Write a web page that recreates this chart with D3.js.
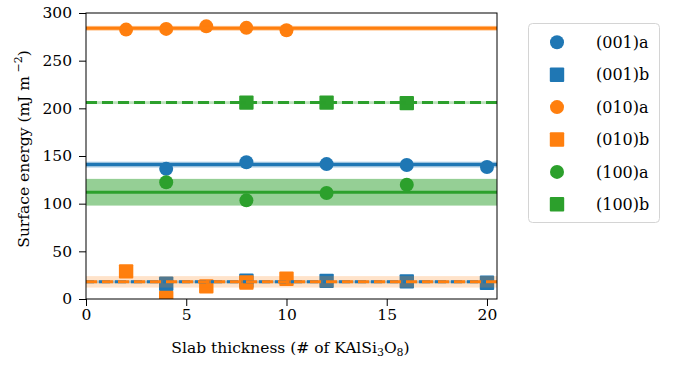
<!DOCTYPE html>
<html>
<head>
<meta charset="utf-8">
<script src="https://cdn.jsdelivr.net/npm/d3@7"></script>
<style>
  html, body { margin: 0; padding: 0; background: #fff; }
  svg text { font-family: "DejaVu Serif", serif; fill: #000; }
</style>
</head>
<body>
<svg id="chart" width="678" height="367"></svg>
<script>
// ---- data ----
const seriesNames = ["(001)a", "(001)b", "(010)a", "(010)b", "(100)a", "(100)b"];
const seriesColors = ["#1f77b4", "#1f77b4", "#ff7f0e", "#ff7f0e", "#2ca02c", "#2ca02c"];
const seriesShapes = ["circle", "square", "circle", "square", "circle", "square"];

const x001a = [4, 8, 12, 16, 20];
const y001a = [136.5, 143.5, 141.5, 140.5, 138.5];
const x001b = [4, 8, 12, 16, 20];
const y001b = [16, 19.2, 19, 18.5, 17];
const x010a = [2, 4, 6, 8, 10];
const y010a = [282.6, 283.3, 286, 284.4, 281.9];
const x010b = [2, 4, 6, 8, 10];
const y010b = [29, 1, 13.2, 17.3, 21.3];
const x100a = [4, 8, 12, 16];
const y100a = [122.4, 103.5, 111.2, 119.9];
const x100b = [8, 12, 16];
const y100b = [206, 206, 205.5];

// fitted surface energy (line) and its uncertainty (band), per series
const fitMean = [141, 18, 284, 18, 112, 206];
const fitErr = [3, 1.5, 2.5, 6, 14, 1.5];
const fitDashed = [false, true, false, true, false, true];
const bandAlpha = [0.45, 0.4, 0.45, 0.22, 0.5, 0.3];

const xTicks = [0, 5, 10, 15, 20];
const yTicks = [0, 50, 100, 150, 200, 250, 300];

const seriesX = [x001a, x001b, x010a, x010b, x100a, x100b];
const seriesY = [y001a, y001b, y010a, y010b, y100a, y100b];

// ---- layout ----
const FS = 15.5;
const svg = d3.select("#chart");
const m = { left: 86, right: 497, top: 13, bottom: 299 };
const x = d3.scaleLinear().domain([0, 20.5]).range([m.left, m.right]);
const y = d3.scaleLinear().domain([0, 300]).range([m.bottom, m.top]);

svg.append("defs").append("clipPath").attr("id", "clip")
  .append("rect").attr("x", m.left).attr("y", m.top)
  .attr("width", m.right - m.left).attr("height", m.bottom - m.top);

const plot = svg.append("g").attr("clip-path", "url(#clip)");
const R = 7, S = 14.4;

function drawMarker(g, shape, cx, cy, color) {
  if (shape === "circle") {
    g.append("circle").attr("cx", cx).attr("cy", cy).attr("r", R).attr("fill", color);
  } else {
    g.append("rect").attr("x", cx - S / 2).attr("y", cy - S / 2)
      .attr("width", S).attr("height", S).attr("rx", 1).attr("fill", color);
  }
}

// markers
seriesNames.forEach((name, i) => {
  const g = plot.append("g");
  seriesX[i].forEach((xv, j) => {
    drawMarker(g, seriesShapes[i], x(xv), y(seriesY[i][j]), seriesColors[i]);
  });
});

// bands
seriesNames.forEach((name, i) => {
  plot.append("rect")
    .attr("x", x(0)).attr("width", x(20.5) - x(0))
    .attr("y", y(fitMean[i] + fitErr[i]))
    .attr("height", y(fitMean[i] - fitErr[i]) - y(fitMean[i] + fitErr[i]))
    .attr("fill", seriesColors[i]).attr("fill-opacity", bandAlpha[i]);
});

// lines
seriesNames.forEach((name, i) => {
  const ln = plot.append("line")
    .attr("x1", x(0)).attr("x2", x(20.5))
    .attr("y1", y(fitMean[i])).attr("y2", y(fitMean[i]))
    .attr("stroke", seriesColors[i]).attr("stroke-width", 3);
  if (fitDashed[i]) {
    ln.attr("stroke-dasharray", "11,5").attr("stroke-dashoffset", i === 1 ? 3 : 0);
  }
});

// axes
const xAxis = svg.append("g").attr("transform", `translate(0,${m.bottom})`)
  .call(d3.axisBottom(x).tickValues(xTicks).tickSize(7).tickPadding(3).tickFormat(d3.format("d")));
const yAxis = svg.append("g").attr("transform", `translate(${m.left},0)`)
  .call(d3.axisLeft(y).tickValues(yTicks).tickSize(7).tickPadding(7).tickFormat(d3.format("d")));
[xAxis, yAxis].forEach(a => {
  a.select(".domain").remove();
  a.selectAll(".tick line").attr("stroke", "#000").attr("stroke-width", 1);
  a.selectAll(".tick text").attr("font-size", FS).attr("font-family", "DejaVu Serif");
});

// frame
svg.append("rect").attr("x", m.left).attr("y", m.top)
  .attr("width", m.right - m.left).attr("height", m.bottom - m.top)
  .attr("fill", "none").attr("stroke", "#000").attr("stroke-width", 1);

// axis labels
const xl = svg.append("text").attr("x", (m.left + m.right) / 2 - 1).attr("y", 353)
  .attr("text-anchor", "middle").attr("font-size", FS);
xl.append("tspan").text("Slab thickness (# of KAlSi");
xl.append("tspan").attr("font-size", 11).attr("dy", 3).text("3");
xl.append("tspan").attr("dy", -3).text("O");
xl.append("tspan").attr("font-size", 11).attr("dy", 3).text("8");
xl.append("tspan").attr("dy", -3).text(")");

const yl = svg.append("text")
  .attr("transform", `translate(29,149) rotate(-90)`)
  .attr("text-anchor", "middle").attr("font-size", FS);
yl.append("tspan").text("Surface energy (mJ m");
yl.append("tspan").attr("font-size", 11).attr("dy", -7).text(" \u22122");
yl.append("tspan").attr("dy", 7).text(")");

// legend
const lg = svg.append("g");
lg.append("rect").attr("x", 528.5).attr("y", 23.5).attr("width", 131).attr("height", 199)
  .attr("rx", 4).attr("fill", "#fff").attr("stroke", "#d4d4d4").attr("stroke-width", 1);
seriesNames.forEach((name, i) => {
  const cy = 42.3 + i * 32.4;
  drawMarker(lg, seriesShapes[i], 557, cy, seriesColors[i]);
  lg.append("text").attr("x", 596).attr("y", cy).attr("dy", "0.36em")
    .attr("font-size", FS + 0.5).text(name);
});
</script>
</body>
</html>
